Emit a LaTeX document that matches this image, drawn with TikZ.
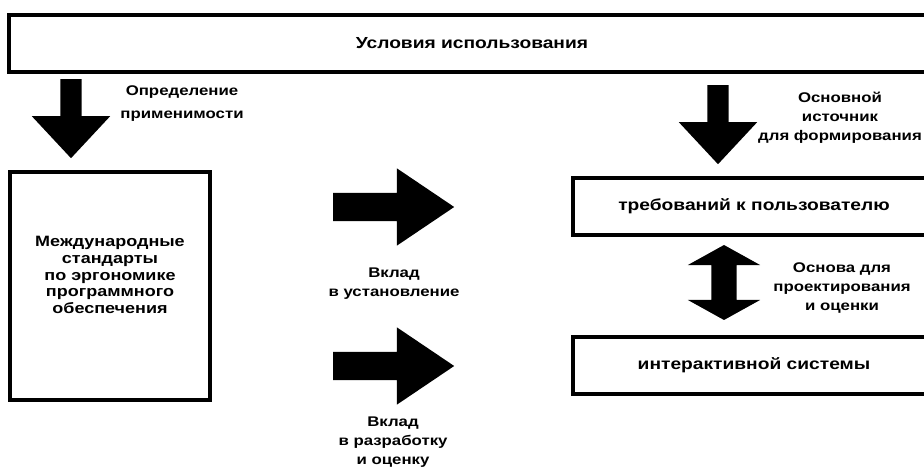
\documentclass[tikz,border=0pt]{standalone}
\usepackage{fontspec}
\setmainfont{Liberation Sans}[FakeStretch=1.2]
\usepackage{tikz}
\usetikzlibrary{shapes,arrows,positioning,calc}

\begin{document}
\begin{tikzpicture}[x=1pt, y=-1pt,
    box/.style={draw, line width=3.4pt, inner sep=0pt, font=\fontsize{16}{18}\selectfont\bfseries},
    lbl/.style={align=center, font=\fontsize{14}{19}\selectfont\bfseries},
    downarrow/.style={single arrow, fill=black, inner sep=0pt, inner ysep=10.5pt,
        single arrow head extend=28.5pt, single arrow tip angle=86, minimum height=79pt, rotate=-90, anchor=tail},
    rightarrow/.style={single arrow, fill=black, inner sep=0pt, inner ysep=14pt,
        single arrow head extend=24.5pt, single arrow tip angle=68, minimum height=121pt, anchor=tail},
    botharrow/.style={double arrow, fill=black, inner sep=0pt, inner ysep=12.5pt,
        double arrow head extend=23.5pt, double arrow tip angle=122, minimum height=75pt, rotate=90}]

    \useasboundingbox (0,0) rectangle (924,470);

    % boxes
    \node [box, minimum width=926pt, minimum height=57pt] (usage) at (472,43.5) {Условия использования};
    \node [box, minimum width=200pt, minimum height=228pt] (isobox) at (110,286) {};
    \node [lbl, font=\fontsize{15}{16.6}\selectfont\bfseries] (isotext) at ([yshift=11pt]isobox.center)
        {Международные\\стандарты\\по эргономике\\программного\\обеспечения};
    \node [box, minimum width=362pt, minimum height=57pt] (req) at (754,206.5) {требований к пользователю};
    \node [box, minimum width=362pt, minimum height=57pt] (sys) at (754,365.5) {интерактивной системы};

    % arrows
    \node [downarrow] (adef) at (71,79) {};
    \node [downarrow] (asrc) at (718,85) {};
    \node [rightarrow] (aset) at (333,207) {};
    \node [rightarrow] (adev) at (333,366) {};
    \node [botharrow] (abase) at (724,282.5) {};

    % labels
    \node [lbl, font=\fontsize{14}{23}\selectfont\bfseries] (ldef) at (182,103.5) {Определение\\применимости};
    \node [lbl] (lsrc) at (840,118) {Основной\\источник\\для формирования};
    \node [lbl] (lbase) at (842,288) {Основа для\\проектирования\\и оценки};
    \node [lbl] (lset) at (394,284) {Вклад\\в установление};
    \node [lbl] (ldev) at (393,442) {Вклад\\в разработку\\и оценку};
\end{tikzpicture}
\end{document}
